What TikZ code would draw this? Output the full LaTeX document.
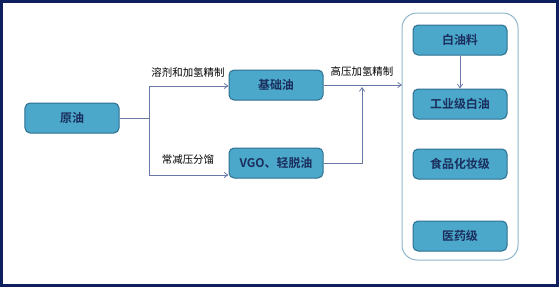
\documentclass[tikz,border=0pt]{standalone}
\usepackage{fontspec}
\usepackage{xcolor}
\usepackage{tikz}
\usetikzlibrary{calc,arrows.meta,positioning}
\setmainfont{Noto Sans CJK SC}
\newfontfamily\cjkbold{Noto Sans CJK SC Bold}
\definecolor{framec}{HTML}{0E1F5E}
\definecolor{boxf}{HTML}{4BA8CB}
\definecolor{boxd}{HTML}{2F6F8F}
\definecolor{txtc}{HTML}{1B2F5E}
\definecolor{linec}{HTML}{6A78A6}
\definecolor{groupc}{HTML}{8FB6CC}
\tikzset{
  ar/.style={-{Straight Barb[length=1.3mm,width=1.8mm]},line width=0.8bp,linec},
  ln/.style={line width=0.8bp,linec},
  box/.style={draw=boxd,line width=1bp,rounded corners=5bp,fill=boxf,align=center,
    minimum width=94bp,minimum height=30bp,inner sep=0pt,font=\cjkbold\fontsize{12}{14}\selectfont,text=txtc},
  lbl/.style={font=\fontsize{10.5}{12}\selectfont,text=black,inner sep=1pt}
}
\begin{document}
\begin{tikzpicture}[x=1bp,y=-1bp]
\useasboundingbox (0,0) rectangle (560,287);
\draw[framec,line width=3bp] (1.5,1.5) rectangle (557.5,285);
% group of white oil grades
\draw[groupc,line width=1bp,rounded corners=15bp] (402,13) rectangle (518,260);
\node[box] (crude) at (72,118) {原油};
\node[box] (base) at (276,85) {基础油};
\node[box] (vgo) at (276,163) {VGO、轻脱油};
\node[box] (raw) at (460,40) {白油料};
\node[box] (ind) at (460,104) {工业级白油};
\node[box] (food) at (460,164) {食品化妆级};
\node[box] (med) at (460,236) {医药级};
\coordinate (split) at (149,118);
\coordinate (join) at (362,87);
\coordinate (gin) at (402,85);
% connectors
\draw[ln] (crude.east) -- (split);
\draw[ar] (split) |- ([yshift=-1bp]base.west);
\draw[ar] (split) |- ([yshift=-12bp]vgo.west);
\draw[ar] (base.east) -- (gin);
\draw[ar] (vgo.east) -| (join);
\draw[ar] (raw) -- (ind);
\node[lbl] at (188,72) {溶剂和加氢精制};
\node[lbl] at (188,160) {常减压分馏};
\node[lbl] at (362,72) {高压加氢精制};
\end{tikzpicture}
\end{document}
